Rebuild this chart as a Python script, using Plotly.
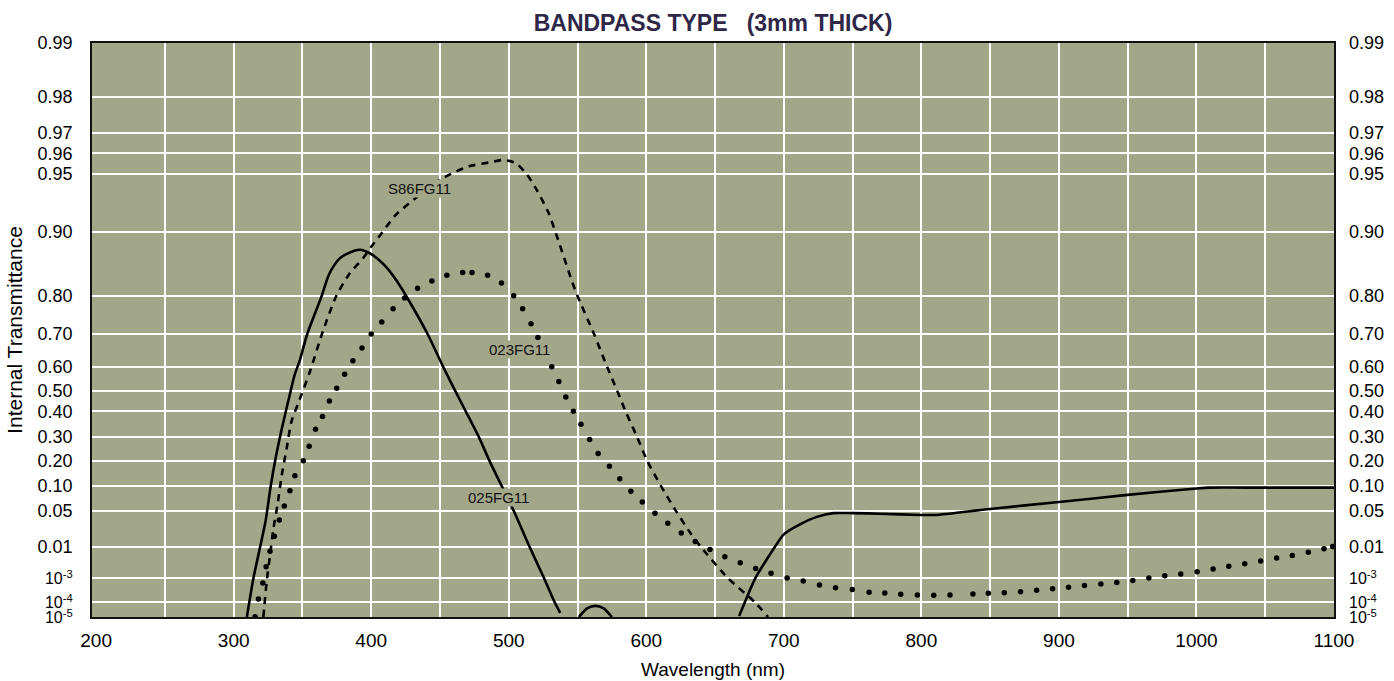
import numpy as np
import plotly.graph_objects as go

# ---------------- data ----------------
ytick_T = [0.99, 0.98, 0.97, 0.96, 0.95, 0.90, 0.80, 0.70, 0.60, 0.50, 0.40,
           0.30, 0.20, 0.10, 0.05, 0.01, 1e-3, 1e-4, 1e-5]
ytick_text = ['0.99', '0.98', '0.97', '0.96', '0.95', '0.90', '0.80', '0.70',
              '0.60', '0.50', '0.40', '0.30', '0.20', '0.10', '0.05', '0.01',
              '10<sup>-3</sup>', '10<sup>-4</sup>', '10<sup>-5</sup>']
xtick_vals = [200, 300, 400, 500, 600, 700, 800, 900, 1000, 1100]
xgrid_vals = [250, 300, 350, 400, 450, 500, 550, 600, 650, 700, 750, 800,
              850, 900, 950, 1000, 1050]

# 025FG11 (solid) - main band
g025_a_wl = [309.6, 314.4, 319.2, 323.2, 327.0, 330.5, 334.9, 339.7, 344.5, 348.0,
             353.5, 363.8, 368.7, 372.3, 377.1, 381.9, 391.6, 400.0, 410.8, 418.0,
             425.3, 441.0, 452.3, 461.0, 468.7, 478.3, 486.0, 494.7, 503.6, 515.2,
             525.6, 533.3, 537.4]
g025_a_T = [1.0e-5, 1.0e-3, 0.01, 0.034, 0.10, 0.21, 0.33, 0.45, 0.57, 0.62,
            0.70, 0.798, 0.837, 0.853, 0.866, 0.872, 0.878, 0.872, 0.853, 0.831,
            0.80, 0.70, 0.60, 0.50, 0.40, 0.30, 0.20, 0.10, 0.05, 0.01,
            1.0e-3, 1.0e-4, 2.0e-5]
# 025FG11 small bump near 563 nm
g025_b_wl = [551, 557, 563, 569, 575]
g025_b_T = [1.0e-5, 4.0e-5, 5.8e-5, 4.0e-5, 1.0e-5]
# 025FG11 red/IR leak
g025_c_wl = [667.5, 671.7, 679.3, 689.8, 693.4, 700.0, 711.7, 724.0, 736.0, 750.0,
             770.0, 800.0, 810.0, 850.0, 900.0, 950.0, 1000.0, 1010.0, 1050.0, 1100.0]
g025_c_T = [1.2e-5, 1.0e-4, 1.0e-3, 6.2e-3, 0.01, 0.019, 0.0296, 0.040, 0.046, 0.046,
            0.045, 0.043, 0.043, 0.053, 0.065, 0.079, 0.093, 0.095, 0.095, 0.095]

# S86FG11 (dashed)
s86_wl = [321.6, 324.0, 326.4, 328.8, 332.0, 334.9, 338.5, 342.0, 347.0, 355.4,
          365.0, 374.7, 384.3, 394.0, 400.0, 404.4, 417.7, 431.0, 442.0, 457.6,
          471.0, 485.5, 496.0, 505.0, 513.3, 520.6, 529.0, 535.0, 548.5, 562.0,
          571.5, 578.8, 584.9, 593.4, 600.7, 610.5, 621.5, 632.2, 639.8, 659.3,
          678.8, 688.5]
s86_T = [1.0e-5, 7.5e-4, 5.8e-3, 0.0236, 0.062, 0.136, 0.25, 0.36, 0.44, 0.58,
         0.71, 0.80, 0.842, 0.866, 0.882, 0.8915, 0.918, 0.932, 0.942, 0.950,
         0.954, 0.9558, 0.957, 0.9556, 0.9497, 0.939, 0.920, 0.895, 0.81, 0.70,
         0.60, 0.50, 0.40, 0.30, 0.20, 0.10, 0.05, 0.02, 0.01, 1.0e-3,
         1.0e-4, 1.0e-5]

# 023FG11 (dotted) - each printed dot
g023_wl = [315.6, 318.0, 321.2, 323.6, 326.4, 329.6, 333.2, 336.8, 340.9, 344.5,
           350.6, 354.9, 359.5, 364.6, 369.6, 374.9, 380.7, 386.7, 393.3, 400.0,
           407.7, 415.9, 424.3, 433.7, 444.1, 455.0, 466.5, 473.3, 484.6, 494.7,
           503.6, 510.1, 516.2, 521.2, 531.3, 536.4, 541.5, 547.0, 552.5, 558.8,
           565.0, 573.2, 580.7, 588.8, 597.1, 606.3, 615.6, 625.4, 635.6, 646.3,
           657.1, 668.3, 679.5, 690.7, 702.4, 714.1, 725.9, 737.6, 749.8, 762.0,
           773.4, 785.0, 797.1, 809.0, 820.8, 837.5, 848.7, 860.3, 872.1, 883.8,
           895.4, 907.0, 918.6, 930.5, 942.1, 953.7, 965.4, 977.0, 988.6, 1000.5,
           1012.1, 1023.5, 1035.1, 1046.7, 1058.3, 1069.7, 1081.3, 1092.7, 1099.0]
g023_T = [1.05e-5, 1.4e-4, 6.6e-4, 2.6e-3, 7.7e-3, 0.0175, 0.0354, 0.058, 0.088, 0.136,
          0.20, 0.26, 0.33, 0.38, 0.45, 0.51, 0.57, 0.62, 0.66, 0.70,
          0.735, 0.77, 0.795, 0.815, 0.829, 0.839, 0.844, 0.844, 0.839, 0.825,
          0.80, 0.77, 0.73, 0.69, 0.60, 0.54, 0.47, 0.40, 0.35, 0.29,
          0.23, 0.176, 0.124, 0.087, 0.065, 0.046, 0.031, 0.0204, 0.0134, 0.0086,
          0.0054, 0.0035, 0.00224, 0.00153, 0.00101, 7.7e-4, 5.5e-4, 4.3e-4, 3.6e-4, 2.8e-4,
          2.6e-4, 2.25e-4, 2.1e-4, 2.05e-4, 2.1e-4, 2.3e-4, 2.5e-4, 2.65e-4, 2.9e-4, 3.35e-4,
          3.9e-4, 4.5e-4, 5.2e-4, 6.0e-4, 6.9e-4, 8.2e-4, 1.0e-3, 1.23e-3, 1.43e-3, 1.73e-3,
          2.15e-3, 2.66e-3, 3.25e-3, 4.0e-3, 4.9e-3, 5.8e-3, 7.3e-3, 9.1e-3, 0.0103]

# curve labels: (text, wavelength, transmittance)
label_text = ['S86FG11', '023FG11', '025FG11']
label_wl = [435.0, 507.7, 492.4]
label_T = [0.9407, 0.655, 0.074]

title_text = '<b>BANDPASS TYPE   (3mm THICK)</b>'
x_title = 'Wavelength (nm)'
y_title = 'Internal Transmittance'

# ---------------- transmittance "graph paper" scale ----------------
# relative height (0 = bottom, 1 = top) of each printed transmittance rule
paper_rule_height = [1.0, 0.906, 0.844, 0.808, 0.7715, 0.671, 0.5597, 0.493, 0.436,
                     0.3944, 0.3585, 0.3133, 0.272, 0.229, 0.185, 0.1218, 0.0679,
                     0.0261, 0.0]
_g_rules = np.log10(-np.log(np.array(ytick_T, dtype=float)))


def tr(T):
    """Map transmittance onto the chart's log(-ln T) paper scale."""
    g = np.log10(-np.log(np.asarray(T, dtype=float)))
    return np.interp(g, _g_rules, paper_rule_height)


BG = '#a3a78a'
REG = 'Liberation Sans, Arial, Helvetica, sans-serif'

# exponent labels a touch smaller so the tightly packed bottom rules stay legible
ytick_display = [t if '<sup>' not in t else '<span style="font-size:16px">' + t + '</span>'
                 for t in ytick_text]

fig = go.Figure()

for wl, T in [(g025_a_wl, g025_a_T), (g025_b_wl, g025_b_T), (g025_c_wl, g025_c_T)]:
    fig.add_trace(go.Scatter(x=wl, y=tr(T), mode='lines',
                             line=dict(color='black', width=2.6, shape='spline', smoothing=0.7),
                             showlegend=False, hoverinfo='skip'))

fig.add_trace(go.Scatter(x=s86_wl, y=tr(s86_T), mode='lines',
                         line=dict(color='black', width=2.6, dash='7px,6px',
                                   shape='spline', smoothing=0.7),
                         showlegend=False, hoverinfo='skip'))

fig.add_trace(go.Scatter(x=g023_wl, y=tr(g023_T), mode='markers',
                         marker=dict(color='black', size=5.5, line=dict(width=0)),
                         showlegend=False, hoverinfo='skip'))

# dummy trace so the mirrored right-hand axis is drawn
fig.add_trace(go.Scatter(x=[None], y=[None], yaxis='y2', showlegend=False, hoverinfo='skip'))

for t, w, T in zip(label_text, label_wl, label_T):
    fig.add_annotation(x=w, y=float(tr(T)), text=t, showarrow=False,
                       font=dict(family=REG, size=15, color='#111111'),
                       bgcolor=BG, borderpad=0)

yr = [0, 1]
yticks = [float(v) for v in tr(ytick_T)]

fig.update_layout(
    width=1394, height=681,
    margin=dict(l=92, r=60, t=43, b=64),
    paper_bgcolor='white', plot_bgcolor=BG,
    title=dict(text=title_text, x=(92 + 1334) / 2 / 1394, xanchor='center',
               y=1 - 23 / 681, yanchor='middle', yref='container', xref='container',
               font=dict(family=REG, size=23, color='#2e2747')),
    xaxis=dict(range=[197, 1100], tickvals=xtick_vals, ticktext=[str(v) for v in xtick_vals],
               showgrid=False, zeroline=False, ticks='', ticklabelstandoff=5, automargin=False,
               tickfont=dict(family=REG, size=19, color='black'),
               showline=True, linecolor='#111111', linewidth=1.5, mirror=True,
               minor=dict(tickvals=xgrid_vals, showgrid=True, gridcolor='white',
                          gridwidth=2, ticks=''),
               title=dict(text=x_title, font=dict(family=REG, size=19, color='black'),
                          standoff=13)),
    yaxis=dict(range=yr, tickvals=yticks, ticktext=ytick_display, showgrid=True, automargin=False,
               gridcolor='white', gridwidth=2, zeroline=False, ticks='', ticklabelstandoff=14,
               tickfont=dict(family=REG, size=18, color='black'),
               showline=True, linecolor='#111111', linewidth=1.5, mirror=True,
               title=dict(text=y_title, font=dict(family=REG, size=21, color='black'),
                          standoff=9)),
    yaxis2=dict(range=yr, tickvals=yticks, ticktext=ytick_display, overlaying='y', side='right',
                showgrid=False, zeroline=False, ticks='', ticklabelstandoff=14, automargin=False,
                tickfont=dict(family=REG, size=18, color='black'), showline=False),
)

fig.write_html('out.html', config={'displayModeBar': False},
               post_script="document.body.style.margin='0';")
